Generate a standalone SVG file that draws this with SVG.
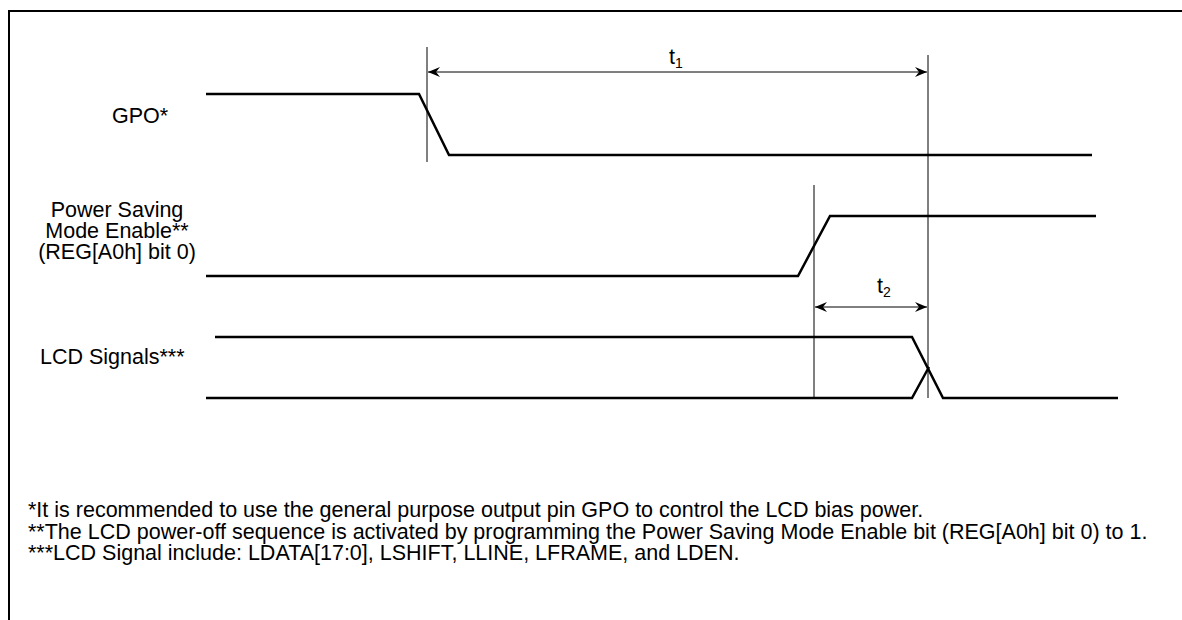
<svg xmlns="http://www.w3.org/2000/svg" width="1182" height="620" viewBox="0 0 1182 620">
<style>
.sig{fill:none;stroke:#000;stroke-width:2.5;stroke-linejoin:miter}
.ref{fill:none;stroke:#000;stroke-width:1}
.lbl{font-family:"Liberation Sans",Arial,sans-serif;font-size:21.5px;fill:#000}
.sub{font-size:14px}
</style>
<defs>
<marker id="ah" viewBox="0 0 12 10" refX="12" refY="5" markerWidth="12" markerHeight="10" markerUnits="userSpaceOnUse" orient="auto-start-reverse">
<path d="M0,0 L12,5 L0,10 L4,5 z" fill="#000"/>
</marker>
</defs>
<rect width="1182" height="620" fill="#fff"/>
<path d="M9,620 V11 H1182" fill="none" stroke="#000" stroke-width="2"/>
<g id="connectors">
<line class="ref" x1="427" y1="47" x2="427" y2="162"/>
<line class="ref" x1="928" y1="55" x2="928" y2="398"/>
<line class="ref" x1="814" y1="185" x2="814" y2="399"/>
<line class="ref" x1="428" y1="72" x2="927" y2="72" marker-start="url(#ah)" marker-end="url(#ah)"/>
<line class="ref" x1="815" y1="307" x2="927" y2="307" marker-start="url(#ah)" marker-end="url(#ah)"/>
</g>
<g id="gpo">
<text class="lbl" x="140" y="123" text-anchor="middle">GPO*</text>
<path class="sig" d="M206,94 H419 L449,155 H1092"/>
</g>
<g id="psm">
<text class="lbl" text-anchor="middle"><tspan x="117" y="217">Power Saving</tspan><tspan x="117" y="238">Mode Enable**</tspan><tspan x="117" y="259">(REG[A0h] bit 0)</tspan></text>
<path class="sig" d="M206,276 H798 L830,216 H1096"/>
</g>
<g id="lcd">
<text class="lbl" x="40" y="364">LCD Signals***</text>
<path class="sig" d="M215,337 H912 L943,398 H1118"/>
<path class="sig" d="M206,398 H912 L929,367"/>
</g>
<g id="t1">
<text class="lbl" x="669" y="64">t<tspan class="sub" dy="4">1</tspan></text>
</g>
<g id="t2">
<text class="lbl" x="877" y="293">t<tspan class="sub" dy="4">2</tspan></text>
</g>
<g id="notes">
<text class="lbl"><tspan x="28" y="517">*It is recommended to use the general purpose output pin GPO to control the LCD bias power.</tspan><tspan x="28" y="539">**The LCD power-off sequence is activated by programming the Power Saving Mode Enable bit (REG[A0h] bit 0) to 1.</tspan><tspan x="28" y="560">***LCD Signal include: LDATA[17:0], LSHIFT, LLINE, LFRAME, and LDEN.</tspan></text>
</g>
</svg>
